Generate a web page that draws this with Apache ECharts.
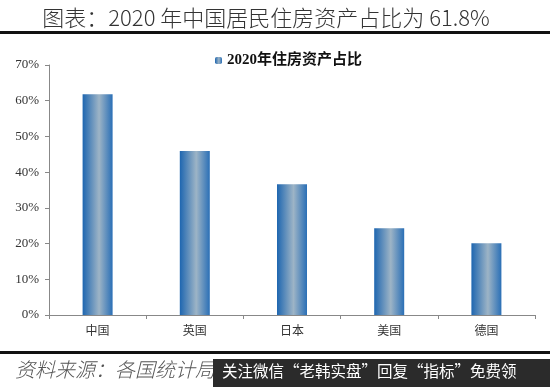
<!DOCTYPE html>
<html><head><meta charset="utf-8">
<script src="https://cdn.jsdelivr.net/npm/echarts@6/dist/echarts.min.js"></script>
<style>html,body{margin:0;padding:0;background:#fff}#c{width:550px;height:387px}</style>
</head><body><div id="c"></div>
<script>
const categories = ['中国', '英国', '日本', '美国', '德国'];
const shareValues = [61.8, 45.9, 36.6, 24.3, 20.1];
const seriesName = '2020年住房资产占比';
const yTicks = [0, 10, 20, 30, 40, 50, 60, 70];

const chart = echarts.init(document.getElementById('c'));
const grad = new echarts.graphic.LinearGradient(0, 0, 1, 0, [
  {offset: 0, color: '#1e66b0'},
  {offset: 0.55, color: '#9db4c6'},
  {offset: 1, color: '#2a6fb6'}
]);
chart.setOption({
  animation: false,
  backgroundColor: '#fff',
  title: {
    text: '图表：2020 年中国居民住房资产占比为 61.8%',
    left: 261, textAlign: 'center', top: 2,
    textStyle: {fontFamily: '"Noto Sans CJK SC", "Liberation Serif", serif', fontSize: 22, fontWeight: 300, color: '#333'}
  },
  legend: {
    top: 48, left: 210, itemWidth: 7, itemHeight: 7, itemGap: 4,
    data: [seriesName],
    textStyle: {fontFamily: '"Liberation Serif", "Noto Sans CJK SC", serif', fontSize: 15, fontWeight: 'bold', color: '#111'}
  },
  grid: {left: 49, right: 15, top: 65, bottom: 72},
  xAxis: {
    type: 'category', data: categories,
    axisLine: {lineStyle: {color: '#888', width: 1}},
    axisTick: {show: true, length: 4, lineStyle: {color: '#888'}},
    axisLabel: {fontFamily: '"Noto Sans CJK SC", serif', fontSize: 12, color: '#333', margin: 9}
  },
  yAxis: {
    type: 'value', min: 0, max: 70, interval: 10,
    axisLine: {show: true, lineStyle: {color: '#888'}},
    axisTick: {show: true, length: 4, lineStyle: {color: '#888'}},
    splitLine: {show: false},
    axisLabel: {formatter: v => v + '%', fontFamily: '"Liberation Serif", serif', fontSize: 13, color: '#333', margin: 10}
  },
  series: [{
    name: seriesName, type: 'bar', data: shareValues, barWidth: 30,
    itemStyle: {color: grad}
  }],
  graphic: [
    {type: 'rect', shape: {x: 0, y: 31, width: 550, height: 3}, style: {fill: '#111'}},
    {type: 'rect', shape: {x: 0, y: 351, width: 550, height: 3}, style: {fill: '#111'}},
    {type: 'text', left: 15, top: 359, style: {text: '资料来源：各国统计局', fontFamily: '"Noto Sans CJK SC", serif', fontStyle: 'italic', fontWeight: 300, fontSize: 20, fill: '#555'}},
    {type: 'rect', shape: {x: 213, y: 359, width: 337, height: 28}, style: {fill: '#2b2b2b'}},
    {type: 'text', left: 222, top: 363, style: {text: '关注微信“老韩实盘”回复“指标”免费领', fontFamily: '"Noto Sans CJK SC", sans-serif', fontSize: 15.5, fill: '#fff'}}
  ]
});
</script></body></html>
